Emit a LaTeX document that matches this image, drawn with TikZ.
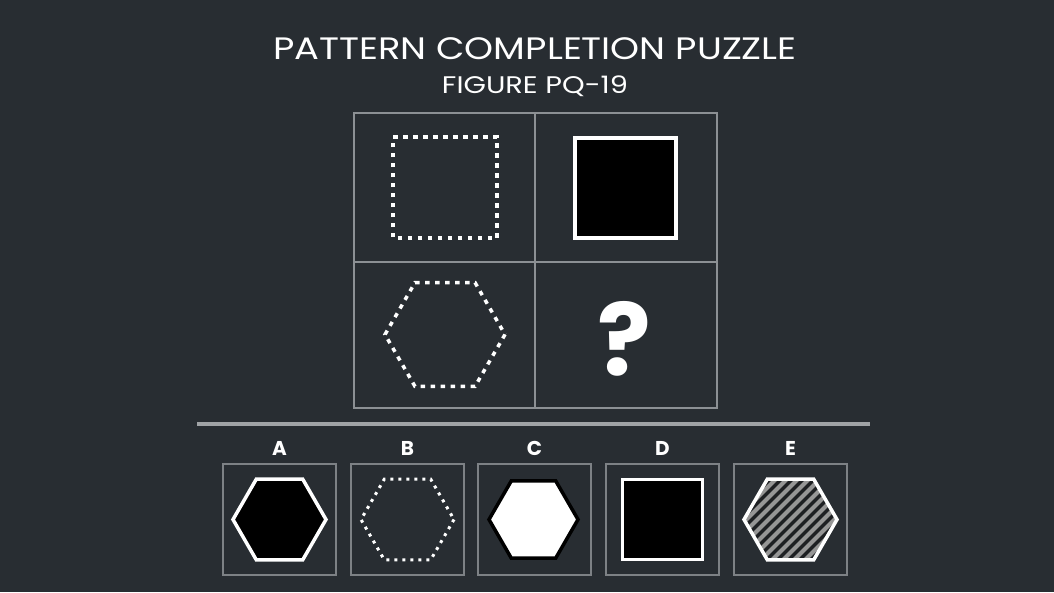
\documentclass[tikz,border=0pt]{standalone}
\usepackage{fontspec}
\setmainfont{Poppins}
\usepackage{xcolor}
\usepackage{graphicx}
\usepackage{tikz}
\usetikzlibrary{positioning}

\begin{document}
\begin{tikzpicture}[x=1pt,y=1pt,yscale=-1,xscale=1,
  gridline/.style={draw={rgb,255:red,140;green,144;blue,148}, line width=2pt},
  optbox/.style={draw={rgb,255:red,125;green,129;blue,133}, line width=2pt, minimum width=113pt, minimum height=111pt, inner sep=0pt},
  dotline/.style={draw=white, line width=3.5pt, dash pattern=on 4.5pt off 5.5pt},
  smalldot/.style={draw=white, line width=3pt, dash pattern=on 3pt off 5pt},
  optlabel/.style={font=\bfseries\fontsize{20}{20}\selectfont, text=white, inner sep=0pt, anchor=south}]
%uncomment if require: \path (0,592); %set diagram left start at 0, and has height of 592

%Shape: Background
\fill[fill={rgb,255:red,40;green,45;blue,50}] (0,0) rectangle (1054,592);

% Text Node
\node[text=white, font=\fontsize{31}{31}\selectfont, inner sep=0pt] (title) at (535,49) {\scalebox{1.19}[1]{PATTERN COMPLETION PUZZLE}};
% Text Node
\node[text=white, font=\fontsize{24}{24}\selectfont, inner sep=0pt] (subtitle) at (535,86) {\scalebox{1.2}[1]{FIGURE PQ-19}};

%Shape: Rectangle [grid]
\draw[gridline] (354,113) rectangle (717,408);
\draw[gridline] (535,113) -- (535,408);
\draw[gridline] (354,262) -- (717,262);

%Shape: Dotted square
\draw[dotline] (393,137) -- (497,137) -- (497,238) -- (393,238) -- cycle;
%Shape: Black square
\draw[draw=white, fill=black, line width=3.5pt] (575,138) rectangle (676,238);
%Shape: Dotted hexagon
\draw[dotline] (505,334.5) -- ++(120:60) -- ++(180:60) -- ++(240:60) -- ++(300:60) -- ++(0:60) -- cycle;
% Text Node
\node[text=white, font=\bfseries\fontsize{100}{100}\selectfont, inner sep=0pt] (qmark) at (624,339) {?};

%Straight Lines [separator]
\draw[draw={rgb,255:red,160;green,163;blue,166}, line width=4pt] (197,424) -- (870,424);

%Shape: Option boxes
\node[optbox] (optA) at (279.5,519.5) {};
\node[optbox] (optB) at (407.5,519.5) {};
\node[optbox] (optC) at (534.5,519.5) {};
\node[optbox] (optD) at (662.5,519.5) {};
\node[optbox] (optE) at (790.5,519.5) {};

% Text Node
\node[optlabel, above=7pt of optA] (labA) {A};
\node[optlabel, above=7pt of optB] (labB) {B};
\node[optlabel, above=7pt of optC] (labC) {C};
\node[optlabel, above=7pt of optD] (labD) {D};
\node[optlabel, above=7pt of optE] (labE) {E};

%Shape: A black hexagon
\draw[draw=white, fill=black, line width=3.5pt] (326,519.5) -- ++(120:46.5) -- ++(180:46.5) -- ++(240:46.5) -- ++(300:46.5) -- ++(0:46.5) -- cycle;
%Shape: B dotted hexagon
\draw[smalldot] (454,519.5) -- ++(120:46.5) -- ++(180:46.5) -- ++(240:46.5) -- ++(300:46.5) -- ++(0:46.5) -- cycle;
%Shape: C white hexagon
\draw[draw=black, fill=white, line width=3.5pt] (578,519.5) -- ++(120:44.5) -- ++(180:44.5) -- ++(240:44.5) -- ++(300:44.5) -- ++(0:44.5) -- cycle;
%Shape: D black square
\draw[draw=white, fill=black, line width=3.5pt] (622.5,479.5) rectangle (702.5,559.5);
%Shape: E hatched hexagon
\begin{scope}
\clip (837,519.5) -- ++(120:46.5) -- ++(180:46.5) -- ++(240:46.5) -- ++(300:46.5) -- ++(0:46.5) -- cycle;
\fill[fill={rgb,255:red,30;green,32;blue,35}] (740,470) rectangle (840,570);
\foreach \i in {-110,-99,...,110}
  \draw[draw={rgb,255:red,150;green,150;blue,150}, line width=4pt] (790.5+\i-60,579.5) -- (790.5+\i+60,459.5);
\end{scope}
\draw[draw=white, line width=3.5pt] (837,519.5) -- ++(120:46.5) -- ++(180:46.5) -- ++(240:46.5) -- ++(300:46.5) -- ++(0:46.5) -- cycle;

\end{tikzpicture}
\end{document}
